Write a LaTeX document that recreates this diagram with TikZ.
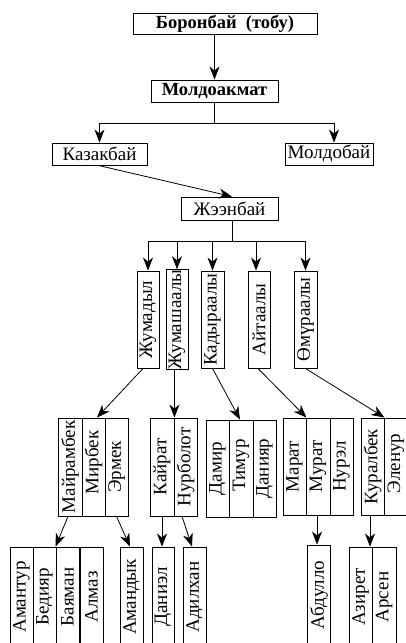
\documentclass[tikz,border=0pt]{standalone}
\usepackage{fontspec}
\setmainfont{Liberation Serif}
\usetikzlibrary{arrows.meta,calc}
\tikzset{
  box/.style={draw, line width=0.9pt, inner sep=0pt, font=\fontsize{19}{21}\selectfont},
  hb/.style={box},
  vb/.style={box, rotate=90},
  arr/.style={line width=0.8pt, -{Stealth[length=13pt,width=10pt,inset=4pt]}},
  ln/.style={line width=0.8pt}
}
\begin{document}
\begin{tikzpicture}[x=1pt,y=-1pt]
\useasboundingbox (0,0) rectangle (406,643);
\clip (0,0) rectangle (406,643);
% level 0-2
\node[hb, minimum width=184pt, minimum height=21pt, font=\fontsize{18.5}{21}\selectfont\bfseries] (b0) at (225,23.5) {Боронбай\ \ (тобу)};
\node[hb, minimum width=127pt, minimum height=22pt, font=\fontsize{18.5}{21}\selectfont\bfseries] (b1) at (214.5,91) {Молдоакмат};
\node[hb, minimum width=95pt, minimum height=22pt] (kaz) at (99.5,154) {Казакбай};
\node[hb, minimum width=88pt, minimum height=22pt] (mol) at (329,154) {Молдобай};
\node[hb, minimum width=97pt, minimum height=23pt] (zhe) at (229.5,208.5) {Жээнбай};
% level 3
\node[vb, minimum width=97pt, minimum height=22pt] (jum) at (148,319.5) {Жумадыл};
\node[vb, minimum width=97pt, minimum height=22pt] (jsh) at (177,319.5) {Жумашаалы};
\node[vb, minimum width=97pt, minimum height=23pt] (kad) at (212.5,319.5) {Кадыраалы};
\node[vb, minimum width=97pt, minimum height=22pt] (ait) at (259,319.5) {Айтаалы};
\node[vb, minimum width=97pt, minimum height=23pt] (omu) at (305.5,319.5) {Өмүраалы};
% level 4
\node[vb, minimum width=98pt, minimum height=24pt] (mai) at (70,467) {Майрамбек};
\node[vb, minimum width=98pt, minimum height=23pt] (mir) at (93.5,467) {\hspace{9pt}Мирбек};
\node[vb, minimum width=98pt, minimum height=23pt] (erm) at (116.5,467) {Эрмек};
\node[vb, minimum width=98pt, minimum height=24pt] (kai) at (162,467) {Кайрат\hspace{20pt}};
\node[vb, minimum width=98pt, minimum height=23pt] (nur) at (185.5,467) {Нурболот};
\node[vb, minimum width=97pt, minimum height=23pt] (dam) at (217.5,468.5) {Дамир\hspace{20pt}};
\node[vb, minimum width=97pt, minimum height=24pt] (tim) at (241,468.5) {\hspace{6pt}Тимур};
\node[vb, minimum width=97pt, minimum height=23pt] (dan) at (264.5,468.5) {Данияр};
\node[vb, minimum width=97pt, minimum height=23pt] (mar) at (294.5,466.5) {Марат};
\node[vb, minimum width=97pt, minimum height=24pt] (mur) at (318,466.5) {Мурат};
\node[vb, minimum width=97pt, minimum height=23pt] (nrl) at (341.5,466.5) {Нурэл};
\node[vb, minimum width=97pt, minimum height=23pt] (kur) at (372.5,466.5) {Куралбек};
\node[vb, minimum width=97pt, minimum height=24pt] (ele) at (396,466.5) {\hspace{6pt}Эленур};
% level 5
\node[vb, minimum width=100pt, minimum height=23pt] (ama) at (21.5,597) {Амантур};
\node[vb, minimum width=100pt, minimum height=23pt] (bed) at (44.5,597) {Бедияр};
\node[vb, minimum width=100pt, minimum height=23pt] (bay) at (67.5,597) {Баяман};
\node[vb, minimum width=100pt, minimum height=23pt] (alm) at (91.5,597) {Алмаз};
\node[vb, minimum width=100pt, minimum height=23pt] (amd) at (131.5,597) {Амандык};
\node[vb, minimum width=100pt, minimum height=22pt] (dnl) at (163,597) {Даниэл};
\node[vb, minimum width=100pt, minimum height=23pt] (adl) at (194.5,597) {Адилхан};
\node[vb, minimum width=100pt, minimum height=23pt] (abd) at (319,595) {Абдулло};
\node[vb, minimum width=100pt, minimum height=23pt] (azi) at (360.5,597) {Азирет};
\node[vb, minimum width=100pt, minimum height=24pt] (ars) at (384,597) {Арсен};
% connectors top
\draw[arr] (b0.south -| b1.north) -- (b1.north);
\coordinate (j1) at ($(b1.south)+(0,21)$);
\coordinate (molt) at ([xshift=5pt]mol.north);
\draw[ln] (b1.south) -- (j1);
\draw[ln] (j1 -| kaz.north) -- (j1 -| molt);
\draw[arr] (j1 -| kaz.north) -- (kaz.north);
\draw[arr] (j1 -| molt) -- (molt);
\draw[arr] ([xshift=-1pt]kaz.south) -- ([xshift=2.5pt]zhe.north);
% Zheenbai branch
\coordinate (zs) at ([xshift=2.5pt]zhe.south);
\coordinate (zj) at ($(zs)+(0,21)$);
\coordinate (aitt) at ([xshift=-3pt]ait.east);
\draw[ln] (zs) -- (zj);
\draw[ln] (zj -| jum.east) -- (zj -| omu.east);
\draw[arr] (zj -| jum.east) -- (jum.east);
\draw[arr] (zj -| jsh.east) -- (jsh.east);
\draw[arr] (zj -| kad.east) -- (kad.east);
\draw[arr] (zj -| aitt) -- (aitt);
\draw[arr] (zj -| omu.east) -- (omu.east);
% level 3 -> 4
\draw[arr] ([xshift=-5pt]jum.west) -- ([xshift=3.5pt]mir.east);
\draw[arr] ([xshift=-2.5pt]jsh.west) -- (kai.south east);
\draw[arr] (kad.west) -- ([xshift=-1pt]tim.east);
\draw[arr] ([xshift=-1pt]ait.west) -- (mar.south east);
\draw[arr] (omu.west) -- (kur.south east);
% level 4 -> 5
\coordinate (kurb) at ([xshift=-2.5pt]kur.west);
\draw[arr] ([xshift=-2pt]mai.west) -- (bay.north east);
\draw[arr] (erm.west) -- ([xshift=-1.5pt]amd.east);
\draw[arr] (kai.west) -- (kai.west |- dnl.east);
\draw[arr] ([xshift=-3.5pt]nur.west) -- ([xshift=-2.5pt]adl.east);
\draw[arr] ([xshift=-1pt]mur.west) -- ([xshift=-2pt]abd.east);
\draw[arr] (kurb) -- (kurb |- azi.east);
\end{tikzpicture}
\end{document}
